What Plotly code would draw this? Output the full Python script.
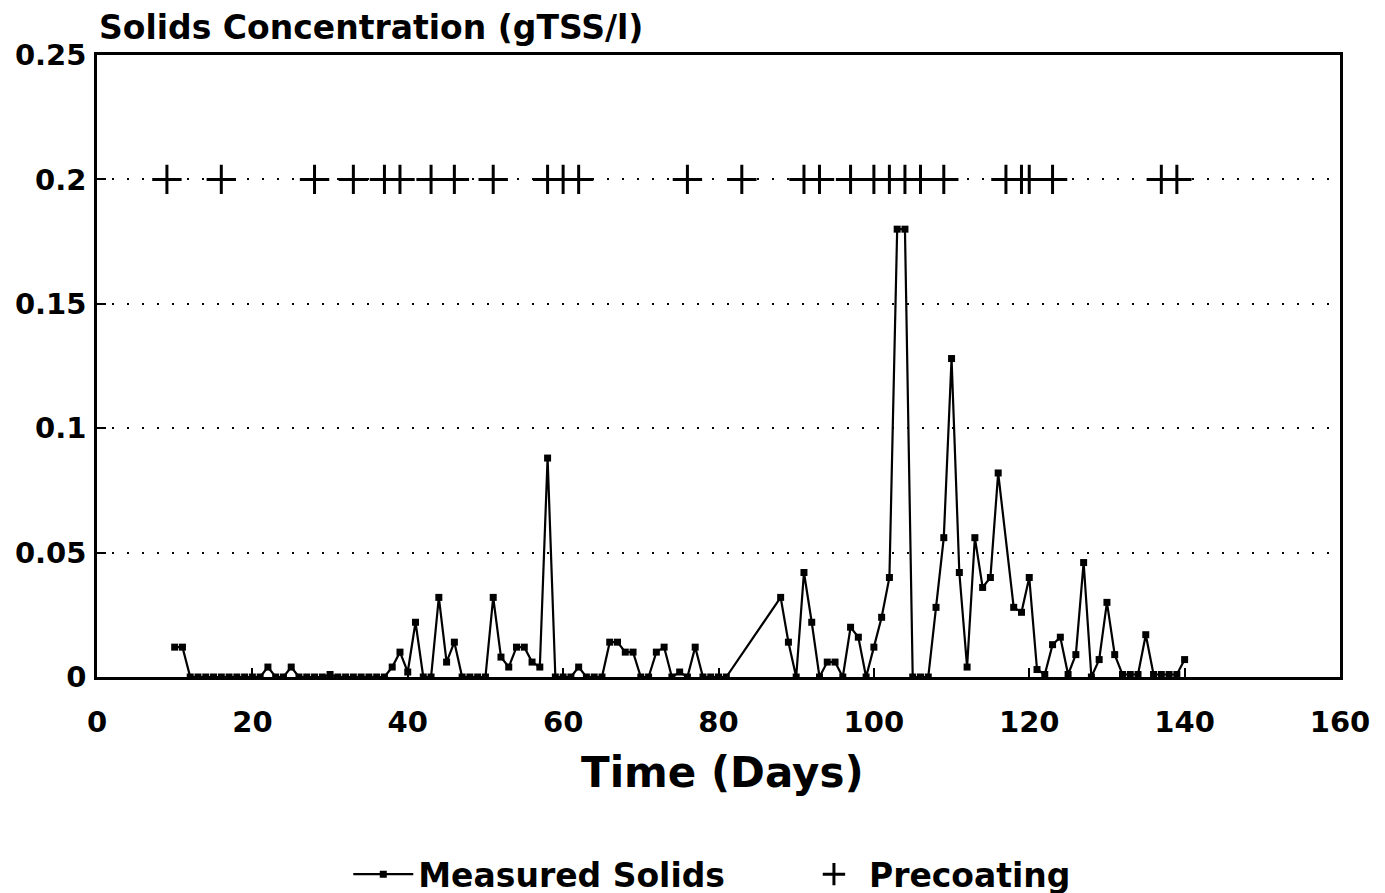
import plotly.graph_objects as go

# Measured solids (day, gTSS/l)
solids_days = [10, 11, 12, 13, 14, 15, 16, 17, 18, 19, 20, 21, 22, 23, 24, 25, 26, 27, 28, 29,
               30, 31, 32, 33, 34, 35, 36, 37, 38, 39, 40, 41, 42, 43, 44, 45, 46, 47, 48, 49,
               50, 51, 52, 53, 54, 55, 56, 57, 58, 59, 60, 61, 62, 63, 64, 65, 66, 67, 68, 69,
               70, 71, 72, 73, 74, 75, 76, 77, 78, 79, 80, 81, 88, 89, 90, 91, 92, 93, 94, 95,
               96, 97, 98, 99, 100, 101, 102, 103, 104, 105, 106, 107, 108, 109, 110, 111, 112,
               113, 114, 115, 116, 118, 119, 120, 121, 122, 123, 124, 125, 126, 127, 128, 129,
               130, 131, 132, 133, 134, 135, 136, 137, 138, 139, 140]
solids_vals = [0.012, 0.012, 0, 0, 0, 0, 0, 0, 0, 0, 0, 0, 0.004, 0, 0, 0.004, 0, 0, 0, 0,
               0.001, 0, 0, 0, 0, 0, 0, 0, 0.004, 0.010, 0.002, 0.022, 0, 0, 0.032, 0.006, 0.014, 0, 0, 0,
               0, 0.032, 0.008, 0.004, 0.012, 0.012, 0.006, 0.004, 0.088, 0, 0, 0, 0.004, 0, 0, 0, 0.014, 0.014, 0.010, 0.010,
               0, 0, 0.010, 0.012, 0, 0.002, 0, 0.012, 0, 0, 0, 0, 0.032, 0.014, 0, 0.042, 0.022, 0, 0.006, 0.006,
               0, 0.020, 0.016, 0, 0.012, 0.024, 0.040, 0.180, 0.180, 0, 0, 0, 0.028, 0.056, 0.128, 0.042, 0.004,
               0.056, 0.036, 0.040, 0.082, 0.028, 0.026, 0.040, 0.003, 0.001, 0.013, 0.016, 0.001, 0.009, 0.046, 0, 0.007,
               0.030, 0.009, 0.001, 0.001, 0.001, 0.017, 0.001, 0.001, 0.001, 0.001, 0.007]

# Precoating events (day)
precoat_days = [9, 16, 28, 33, 37, 39, 43, 46, 51, 58, 60, 62, 76, 83, 91, 93, 97, 100, 102,
                104, 106, 109, 117, 119, 120, 123, 137, 139]
precoat_level = 0.2

x_ticks = [0, 20, 40, 60, 80, 100, 120, 140, 160]
y_ticks = [0, 0.05, 0.1, 0.15, 0.2, 0.25]
y_ticklabels = ["0", "0.05", "0.1", "0.15", "0.2", "0.25"]

FONT = "DejaVu Sans"
NB = "\u00a0"

fig = go.Figure()
fig.add_trace(go.Scatter(
    x=solids_days, y=solids_vals, mode="lines+markers", name="Measured Solids" + NB * 6,
    line=dict(color="black", width=2.2),
    marker=dict(symbol="square", size=7, color="black"),
))
fig.add_trace(go.Scatter(
    x=precoat_days, y=[precoat_level] * len(precoat_days), mode="markers", name="Precoating",
    marker=dict(symbol="cross-thin", size=21, color="black",
                line=dict(color="black", width=3)),
))

fig.update_layout(
    width=1385, height=893,
    margin=dict(l=89, r=53, t=47, b=224),
    paper_bgcolor="white", plot_bgcolor="white",
    font=dict(family=FONT, color="black"),
    showlegend=True,
    legend=dict(orientation="h", x=0.495, xanchor="center", yref="container", y=0.03,
                yanchor="middle",
                font=dict(family=FONT, size=33, color="black", weight="bold"), itemwidth=60,
                traceorder="normal"),
    xaxis=dict(range=[0, 160], tickvals=x_ticks, showgrid=False, zeroline=False,
               showline=True, linecolor="black", linewidth=2.5, mirror=True,
               ticks="inside", ticklen=9, tickcolor="black", tickwidth=1.5,
               automargin=False, ticklabelstandoff=17,
               tickfont=dict(family=FONT, size=29, color="black", weight="bold")),
    yaxis=dict(range=[0, 0.25], tickvals=y_ticks, ticktext=y_ticklabels,
               showgrid=True, gridcolor="black", griddash="2px,13px", gridwidth=2,
               zeroline=False, showline=True, linecolor="black", linewidth=2.5, mirror=True,
               ticks="inside", ticklen=9, tickcolor="black", tickwidth=1.5,
               automargin=False, ticklabelstandoff=2,
               tickfont=dict(family=FONT, size=29, color="black", weight="bold")),
    annotations=[
        dict(text="Solids Concentration (gTSS/l)", x=0, y=1, xref="paper", yref="paper",
             xanchor="left", yanchor="bottom", yshift=6, showarrow=False,
             font=dict(family=FONT, size=33, color="black", weight="bold")),
        dict(text="Time (Days)", x=0.503, y=-0.153, xref="paper", yref="paper",
             xanchor="center", yanchor="middle", showarrow=False,
             font=dict(family=FONT, size=42, color="black", weight="bold")),
    ],
)

fig.write_html("out.html")
